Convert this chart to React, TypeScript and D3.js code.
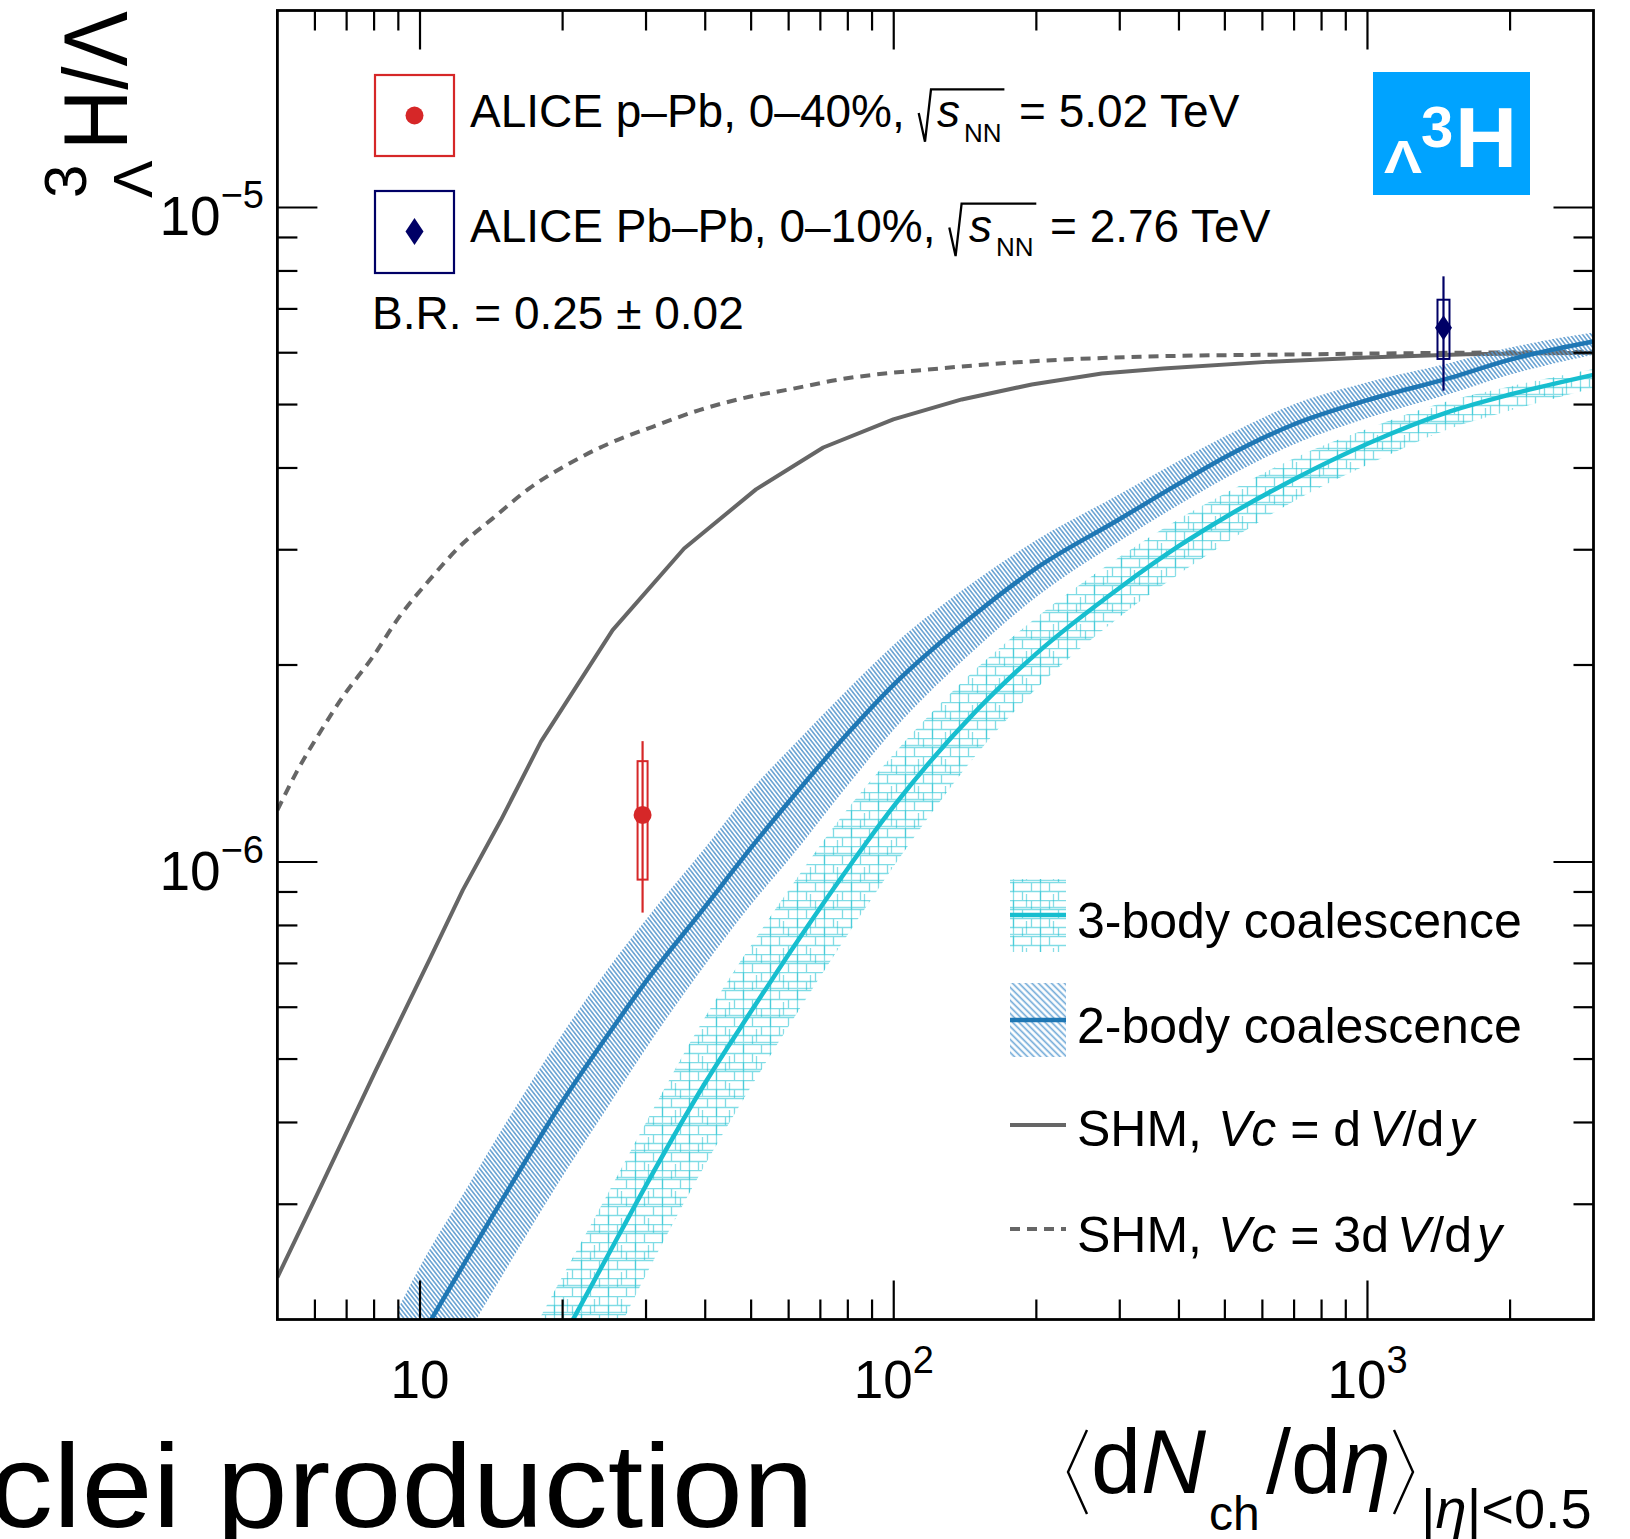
import React from "react";
import * as d3 from "d3";

const W = 1630;
const H = 1539;
const FONT = "'Liberation Sans', Arial, Helvetica, sans-serif";

// Axis domains (log-log)
const xDomain = [5, 3000];
const yDomain = [2e-7, 2e-5];

// Statistical hadronisation model, Vc = dV/dy
const shmX = [5, 6.03, 8.07, 10.46, 12.31, 14.82, 18.0, 25.5, 36.1, 51.2, 71.0, 99.8, 139.2, 195.6, 274.9, 370.7, 613, 996.6, 1620, 3000];
const shmY = [2.32e-7, 3.08e-7, 4.81e-7, 7.08e-7, 9.06e-7, 1.159e-6, 1.527e-6, 2.261e-6, 3.013e-6, 3.71e-6, 4.299e-6, 4.745e-6, 5.091e-6, 5.366e-6, 5.578e-6, 5.677e-6, 5.81e-6, 5.902e-6, 5.97e-6, 6.0e-6];

// Statistical hadronisation model, Vc = 3 dV/dy
const shm3X = [5, 5.47, 6.13, 6.87, 7.95, 9.04, 10.46, 12.31, 14.24, 17.01, 20.66, 25.09, 30.98, 38.88, 49.58, 60.2, 77.0, 125.2, 203.6, 331, 720, 3000];
const shm3Y = [1.2e-6, 1.366e-6, 1.572e-6, 1.788e-6, 2.058e-6, 2.369e-6, 2.696e-6, 3.067e-6, 3.35e-6, 3.723e-6, 4.064e-6, 4.361e-6, 4.624e-6, 4.903e-6, 5.138e-6, 5.274e-6, 5.462e-6, 5.677e-6, 5.831e-6, 5.916e-6, 5.965e-6, 6.02e-6];

// 2-body coalescence: central value and uncertainty band
const twoBodyX = [9, 10, 12.5, 15, 20, 25, 30, 40, 50, 60, 80, 100, 150, 200, 300, 400, 500, 700, 1000, 1500, 2000, 3000];
const twoBodyMid = [1.64e-7, 1.87e-7, 2.46e-7, 3.07e-7, 4.31e-7, 5.46e-7, 6.57e-7, 8.55e-7, 1.052e-6, 1.235e-6, 1.573e-6, 1.867e-6, 2.406e-6, 2.812e-6, 3.343e-6, 3.786e-6, 4.153e-6, 4.665e-6, 5.078e-6, 5.497e-6, 5.857e-6, 6.24e-6];
const twoBodyHigh = [2.08e-7, 2.41e-7, 3.16e-7, 3.94e-7, 5.47e-7, 6.89e-7, 8.17e-7, 1.052e-6, 1.29e-6, 1.483e-6, 1.837e-6, 2.148e-6, 2.702e-6, 3.104e-6, 3.651e-6, 4.104e-6, 4.473e-6, 5.006e-6, 5.408e-6, 5.794e-6, 6.109e-6, 6.44e-6];
const twoBodyLow = [1.25e-7, 1.43e-7, 1.88e-7, 2.35e-7, 3.31e-7, 4.24e-7, 5.19e-7, 6.97e-7, 8.61e-7, 1.007e-6, 1.31e-6, 1.592e-6, 2.127e-6, 2.54e-6, 3.095e-6, 3.515e-6, 3.856e-6, 4.348e-6, 4.768e-6, 5.196e-6, 5.557e-6, 5.96e-6];

// 3-body coalescence: central value and uncertainty band
const threeBodyX = [17.5, 20, 25, 30, 40, 50, 60, 80, 100, 150, 200, 300, 400, 500, 700, 1000, 1500, 2000, 3000];
const threeBodyMid = [1.57e-7, 1.87e-7, 2.516e-7, 3.207e-7, 4.6e-7, 5.916e-7, 7.228e-7, 9.777e-7, 1.217e-6, 1.708e-6, 2.082e-6, 2.625e-6, 3.04e-6, 3.361e-6, 3.845e-6, 4.355e-6, 4.884e-6, 5.18e-6, 5.55e-6];
const threeBodyHigh = [1.95e-7, 2.33e-7, 3.13e-7, 4.0e-7, 5.8e-7, 7.46e-7, 9.06e-7, 1.207e-6, 1.462e-6, 1.98e-6, 2.363e-6, 2.927e-6, 3.344e-6, 3.657e-6, 4.141e-6, 4.59e-6, 5.074e-6, 5.33e-6, 5.667e-6];
const threeBodyLow = [1.12e-7, 1.33e-7, 1.8e-7, 2.34e-7, 3.45e-7, 4.54e-7, 5.61e-7, 7.75e-7, 9.85e-7, 1.464e-6, 1.841e-6, 2.371e-6, 2.754e-6, 3.067e-6, 3.56e-6, 4.044e-6, 4.599e-6, 4.896e-6, 5.301e-6];

// ALICE measurements: p-Pb 0-40% and Pb-Pb 0-10%
const dataX = [29.5, 1447];
const dataY = [1.18e-6, 6.55e-6];
const statLow = [8.37e-7, 5.25e-6];
const statHigh = [1.53e-6, 7.85e-6];
const sysLow = [9.4e-7, 5.87e-6];
const sysHigh = [1.426e-6, 7.23e-6];
const dataColors = ["#d62728", "#000066"];

// Ticks
const xMajor = [10, 100, 1000];
const xMajorLabel = ["10", "10", "10"];
const xMajorExp = ["", "2", "3"];
const xMinor = [6, 7, 8, 9, 20, 30, 40, 50, 60, 70, 80, 90, 200, 300, 400, 500, 600, 700, 800, 900, 2000];
const yMajor = [1e-6, 1e-5];
const yMajorExp = ["\u22126", "\u22125"];
const yMinor = [3e-7, 4e-7, 5e-7, 6e-7, 7e-7, 8e-7, 9e-7, 2e-6, 3e-6, 4e-6, 5e-6, 6e-6, 7e-6, 8e-6, 9e-6];

const C_TWO = "#1f77b4";
const C_THREE = "#17becf";
const C_SHM = "#666666";

export default function App() {
  const x = d3.scaleLog().domain(xDomain).range([277.4, 1593.5]);
  const y = d3.scaleLog().domain(yDomain).range([1319.5, 10.5]);
  const L = x(xDomain[0]);
  const R = x(xDomain[1]);
  const T = y(yDomain[1]);
  const B = y(yDomain[0]);

  const lineLin = d3.line<[number, number]>().x((d) => x(d[0])).y((d) => y(d[1]));
  const lineSmooth = d3
    .line<[number, number]>()
    .x((d) => x(d[0]))
    .y((d) => y(d[1]))
    .curve(d3.curveMonotoneX);
  const band = d3
    .area<[number, number, number]>()
    .x((d) => x(d[0]))
    .y0((d) => y(d[1]))
    .y1((d) => y(d[2]))
    .curve(d3.curveMonotoneX);

  const shmPath = lineLin(shmX.map((v, i) => [v, shmY[i]]) as [number, number][]) || "";
  const shm3Path = lineSmooth(shm3X.map((v, i) => [v, shm3Y[i]]) as [number, number][]) || "";
  const twoMid = lineSmooth(twoBodyX.map((v, i) => [v, twoBodyMid[i]]) as [number, number][]) || "";
  const twoBand = band(twoBodyX.map((v, i) => [v, twoBodyLow[i], twoBodyHigh[i]]) as [number, number, number][]) || "";
  const threeMid = lineSmooth(threeBodyX.map((v, i) => [v, threeBodyMid[i]]) as [number, number][]) || "";
  const threeBand = band(threeBodyX.map((v, i) => [v, threeBodyLow[i], threeBodyHigh[i]]) as [number, number, number][]) || "";

  const tickW = 2.2;
  const majLen = 39;
  const minLen = 20;

  return (
    <div style={{ position: "absolute", left: 0, top: 0 }}>
      <svg width={W} height={H} viewBox={`0 0 ${W} ${H}`} style={{ display: "block", fontFamily: FONT }}>
        <defs>
          <clipPath id="plotArea">
            <rect x={L} y={T} width={R - L} height={B - T} />
          </clipPath>
          <pattern id="hatchTwo" patternUnits="userSpaceOnUse" width={12} height={3.3} patternTransform="rotate(52)">
            <line x1={0} y1={1.65} x2={12} y2={1.65} stroke="#5596cd" strokeWidth={1.4} />
          </pattern>
          <pattern id="hatchTwoKey" patternUnits="userSpaceOnUse" width={12} height={4.6} patternTransform="rotate(45)">
            <line x1={0} y1={2.3} x2={12} y2={2.3} stroke="#6aa6d6" strokeWidth={1.6} />
          </pattern>
          <pattern id="brickA" patternUnits="userSpaceOnUse" width={18} height={18}>
            <path d="M0,0.5H18M0,9.5H18M5.5,0.5V9.5M14.5,9.5V18.5" stroke={C_THREE} strokeOpacity={0.55} strokeWidth={1.3} fill="none" />
          </pattern>
          <pattern id="brickB" patternUnits="userSpaceOnUse" width={27} height={27} x={5} y={3}>
            <path d="M0,13.5H27M9.5,0V27M22.5,0V13.5" stroke={C_THREE} strokeOpacity={0.5} strokeWidth={1.3} fill="none" />
          </pattern>
        </defs>

        <rect x={0} y={0} width={W} height={H} fill="#ffffff" />

        {/* Model curves and bands */}
        <g clipPath="url(#plotArea)">
          <path d={shmPath} fill="none" stroke={C_SHM} strokeWidth={4} strokeLinejoin="round" />
          <path d={shm3Path} fill="none" stroke={C_SHM} strokeWidth={4} strokeDasharray="10 7" />
          <path d={threeBand} fill="url(#brickA)" />
          <path d={threeBand} fill="url(#brickB)" />
          <path d={twoBand} fill="url(#hatchTwo)" />
          <path d={threeMid} fill="none" stroke={C_THREE} strokeWidth={4.5} />
          <path d={twoMid} fill="none" stroke={C_TWO} strokeWidth={4.5} />
        </g>

        {/* ALICE data points */}
        {dataX.map((dx, i) => {
          const cx = x(dx);
          const c = dataColors[i];
          const hw = i === 0 ? 5 : 6;
          return (
            <g key={`pt${i}`}>
              <line x1={cx} x2={cx} y1={y(statLow[i])} y2={y(statHigh[i])} stroke={c} strokeWidth={2.2} />
              <rect x={cx - hw} y={y(sysHigh[i])} width={2 * hw} height={y(sysLow[i]) - y(sysHigh[i])} fill="none" stroke={c} strokeWidth={2} />
              {i === 0 ? (
                <circle cx={cx} cy={y(dataY[i])} r={9} fill={c} />
              ) : (
                <path d={`M${cx},${y(dataY[i]) - 12.5}L${cx + 8.5},${y(dataY[i])}L${cx},${y(dataY[i]) + 12.5}L${cx - 8.5},${y(dataY[i])}Z`} fill={c} />
              )}
            </g>
          );
        })}

        {/* Frame and ticks */}
        <g stroke="#000" strokeWidth={tickW}>
          {xMajor.map((v) => (
            <g key={`xM${v}`}>
              <line x1={x(v)} x2={x(v)} y1={B} y2={B - majLen} />
              <line x1={x(v)} x2={x(v)} y1={T} y2={T + majLen} />
            </g>
          ))}
          {xMinor.map((v) => (
            <g key={`xm${v}`}>
              <line x1={x(v)} x2={x(v)} y1={B} y2={B - minLen} />
              <line x1={x(v)} x2={x(v)} y1={T} y2={T + minLen} />
            </g>
          ))}
          {yMajor.map((v) => (
            <g key={`yM${v}`}>
              <line x1={L} x2={L + 40} y1={y(v)} y2={y(v)} />
              <line x1={R} x2={R - 40} y1={y(v)} y2={y(v)} />
            </g>
          ))}
          {yMinor.map((v) => (
            <g key={`ym${v}`}>
              <line x1={L} x2={L + minLen} y1={y(v)} y2={y(v)} />
              <line x1={R} x2={R - minLen} y1={y(v)} y2={y(v)} />
            </g>
          ))}
        </g>
        <rect x={L} y={T} width={R - L} height={B - T} fill="none" stroke="#000" strokeWidth={2.8} />

        {/* Tick labels */}
        {xMajor.map((v, i) => (
          <text key={`xl${v}`} x={x(v)} y={1398} textAnchor="middle" fontSize={53} fill="#000">
            {xMajorLabel[i]}
            {xMajorExp[i] && (
              <tspan dy={-25} fontSize={38}>
                {xMajorExp[i]}
              </tspan>
            )}
          </text>
        ))}
        {yMajor.map((v, i) => (
          <text key={`yl${v}`} x={264} y={y(v) + 27.5} textAnchor="end" fontSize={55} fill="#000">
            10
            <tspan dy={-27} fontSize={38}>
              {yMajorExp[i]}
            </tspan>
          </text>
        ))}

        {/* Y axis title */}
        <g transform="rotate(-90)" fill="#000">
          <text x={-198} y={86} fontSize={60}>3</text>
          <text x={-198} y={152} fontSize={56}>Λ</text>
          <text x={-150} y={127} fontSize={90} textLength={139} lengthAdjust="spacingAndGlyphs">H/Λ</text>
        </g>

        {/* X axis title */}
        <g fill="none" stroke="#000" strokeWidth={2.4}>
          <path d="M1087,1430L1068,1472L1087,1514" />
          <path d="M1394,1430L1413,1472L1394,1514" />
        </g>
        <text y={1493} fontSize={90} fill="#000">
          <tspan x={1091}>d</tspan>
          <tspan fontStyle="italic">N</tspan>
        </text>
        <text x={1209} y={1530} fontSize={48} fill="#000">ch</text>
        <text x={1266} y={1493} fontSize={90} fill="#000">
          /d<tspan fontStyle="italic">η</tspan>
        </text>
        <text x={1421} y={1528} fontSize={56} fill="#000">
          |<tspan fontStyle="italic">η</tspan>|&lt;0.5
        </text>

        {/* Slide title fragment, running off the left edge */}
        <text x={-11} y={1527} fontSize={118} fill="#000" textLength={825} lengthAdjust="spacingAndGlyphs">
          clei production
        </text>

        {/* Hypertriton badge */}
        <rect x={1373} y={72} width={157} height={123} fill="#00a3ff" />
        <g fill="#fff" fontWeight="bold">
          <text x={1384} y={173} fontSize={46} textLength={38} lengthAdjust="spacingAndGlyphs">Λ</text>
          <text x={1421} y={147} fontSize={58}>3</text>
          <text x={1455} y={167} fontSize={86}>H</text>
        </g>

        {/* Data legend */}
        <rect x={375} y={75} width={79} height={81} fill="none" stroke={dataColors[0]} strokeWidth={2.2} />
        <circle cx={414.5} cy={115.5} r={9} fill={dataColors[0]} />
        <rect x={375} y={191} width={79} height={82} fill="none" stroke={dataColors[1]} strokeWidth={2.2} />
        <path d="M414.5,218L423.5,231.5L414.5,245L405.5,231.5Z" fill={dataColors[1]} />

        <g fill="#000" fontSize={46}>
          <text x={470} y={127.3}>ALICE p–Pb, 0–40%,</text>
          <text x={937} y={127.3} fontStyle="italic">s</text>
          <text x={964} y={141.7} fontSize={26}>NN</text>
          <text x={1019} y={127.3}>= 5.02 TeV</text>

          <text x={470} y={241.7}>ALICE Pb–Pb, 0–10%,</text>
          <text x={969} y={241.7} fontStyle="italic">s</text>
          <text x={996} y={256.1} fontSize={26}>NN</text>
          <text x={1050} y={241.7}>= 2.76 TeV</text>

          <text x={372} y={329.3}>B.R. = 0.25 ± 0.02</text>
        </g>
        <g fill="none" stroke="#000" strokeWidth={2.3} strokeLinejoin="miter">
          <path d="M918.7,113L925,141.7L931,89.3L1004.4,89.3" />
          <path d="M949.3,227.4L955.6,256.1L961.6,203.7L1036.3,203.7" />
        </g>

        {/* Model legend */}
        <rect x={1010} y={879} width={56} height={73} fill="url(#brickA)" />
        <rect x={1010} y={879} width={56} height={73} fill="url(#brickB)" />
        <line x1={1010} x2={1066} y1={915} y2={915} stroke={C_THREE} strokeWidth={4.5} />
        <rect x={1010} y={983} width={56} height={74} fill="url(#hatchTwoKey)" />
        <line x1={1010} x2={1066} y1={1020} y2={1020} stroke={C_TWO} strokeWidth={4.5} />
        <line x1={1010} x2={1066} y1={1125} y2={1125} stroke={C_SHM} strokeWidth={4} />
        <line x1={1010} x2={1066} y1={1229} y2={1229} stroke={C_SHM} strokeWidth={4} strokeDasharray="10 7" />

        <g fill="#000" fontSize={50}>
          <text x={1077} y={938}>3-body coalescence</text>
          <text x={1077} y={1043}>2-body coalescence</text>
          <text x={1077} y={1146}>
            SHM,
            <tspan dx={16} fontStyle="italic">Vc</tspan>
            <tspan> = d</tspan>
            <tspan dx={8} fontStyle="italic">V</tspan>
            <tspan>/d</tspan>
            <tspan dx={5} fontStyle="italic">y</tspan>
          </text>
          <text x={1077} y={1252}>
            SHM,
            <tspan dx={16} fontStyle="italic">Vc</tspan>
            <tspan> = 3d</tspan>
            <tspan dx={8} fontStyle="italic">V</tspan>
            <tspan>/d</tspan>
            <tspan dx={5} fontStyle="italic">y</tspan>
          </text>
        </g>
      </svg>
    </div>
  );
}
